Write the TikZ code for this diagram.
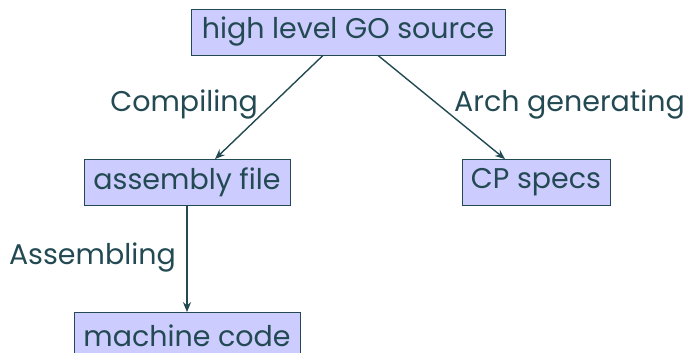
\documentclass[tikz,border=0pt]{standalone}
\usepackage{fontspec}
\setmainfont{Poppins}
\usetikzlibrary{arrows.meta,calc}
\definecolor{ink}{HTML}{234A53}
\definecolor{boxfill}{HTML}{CCCCFF}
\begin{document}
\begin{tikzpicture}[x=1pt,y=-1pt,
  box/.style={draw=ink,line width=0.8pt,fill=boxfill,text=ink,font=\fontsize{28.5}{32}\selectfont,minimum height=46pt,inner sep=0pt},
  lbl/.style={text=ink,font=\fontsize{28.5}{32}\selectfont,inner sep=0pt},
  conn/.style={draw=ink,line width=1.4pt,-{Stealth[length=10pt,width=8pt]}}]
\useasboundingbox (0,0) rectangle (689,353);
\node[box,minimum width=314pt] (src) at (348,32) {high level GO source};
\node[box,minimum width=206pt] (asm) at (187,182.5) {assembly file};
\node[box,minimum width=148pt] (cp) at (536,182.5) {CP specs};
\node[box,minimum width=226pt] (mc) at (187,335.5) {machine code};
\draw[conn] ($(src.south)+(-25,0)$) -- ($(asm.north)+(28,0)$);
\draw[conn] ($(src.south)+(30,0)$) -- ($(cp.north)+(-31,0)$);
\draw[conn] (asm.south) -- (mc.north);
\node[lbl,anchor=east] (l1) at (258,105) {Compiling};
\node[lbl,anchor=west] (l2) at (454,105) {Arch generating};
\node[lbl,anchor=east] (l3) at (176,258) {Assembling};
\end{tikzpicture}
\end{document}
